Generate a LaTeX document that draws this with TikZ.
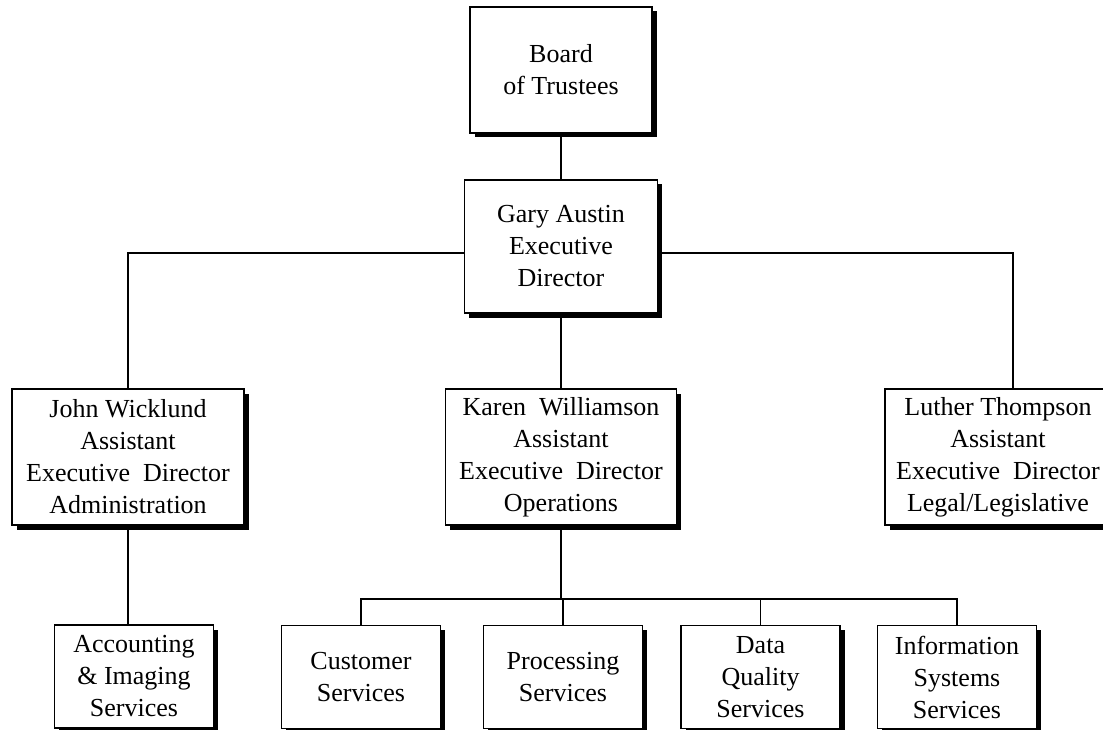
\documentclass[tikz,border=0pt]{standalone}
\usepackage{fontspec}
\setmainfont{Liberation Serif}
\usetikzlibrary{shadows}
\tikzset{
    box/.style = {draw, line width=1.6pt, fill=white, align=center, inner sep=0pt,
                  font=\fontsize{26}{32}\selectfont,
                  drop shadow={fill=black, opacity=1, shadow xshift=4.5pt, shadow yshift=-4.5pt}},
    head/.style = {box, minimum width=182pt, minimum height=126pt},
    aed/.style = {box, minimum height=136pt},
    unit/.style = {box, minimum width=159pt, minimum height=103pt},
    link/.style = {line width=1.6pt}
}
\begin{document}
\begin{tikzpicture}[x=1pt, y=-1pt]
  \useasboundingbox (0,0) rectangle (1103,730);

  \node[head] (board) at (561,70) {Board\\of Trustees};
  \node[box, minimum width=193pt, minimum height=133pt] (gary) at (561,246.5) {Gary Austin\\Executive\\Director};

  \node[aed, minimum width=232pt] (john) at (128,457) {John Wicklund\\Assistant\\Executive~~Director\\Administration};
  \node[aed, minimum width=231pt] (karen) at (561,457) {Karen~~Williamson\\Assistant\\Executive~~Director\\Operations};
  \node[aed, minimum width=226pt] (luther) at (998,457) {Luther Thompson\\Assistant\\Executive~~Director\\Legal/Legislative};

  \node[unit] (acct) at (134,676.5) {Accounting\\\& Imaging\\Services};
  \node[unit] (cust) at (361,677) {Customer\\Services};
  \node[unit] (proc) at (563,677) {Processing\\Services};
  \node[unit] (data) at (760.5,677) {Data\\Quality\\Services};
  \node[unit] (info) at (957,677) {Information\\Systems\\Services};

  \coordinate (bus) at (563,599);

  \draw[link] (board.south) -- (board.south |- gary.north);
  \draw[link] (gary.south) -- (gary.south |- karen.north);
  \draw[link] ([yshift=-6.5pt]gary.west) -| (john.north);
  \draw[link] ([yshift=-6.5pt]gary.east) -| ([xshift=15pt]luther.north);
  \draw[link] (john.south) -- (john.south |- acct.north);

  \draw[link] (karen.south) -- (karen.south |- bus);
  \draw[link] (cust.north) |- (bus -| info.north) -- (info.north);
  \draw[link] (proc.north) -- (proc.north |- bus);
  \draw[link] (data.north) -- (data.north |- bus);
\end{tikzpicture}
\end{document}
